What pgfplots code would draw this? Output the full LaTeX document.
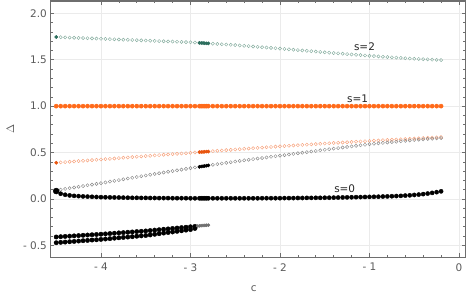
\documentclass[border=0pt]{standalone}
\usepackage{pgfplots}
\pgfplotsset{compat=1.18}
\usepackage{fontspec}
\setmainfont{DejaVu Sans}
\definecolor{fr}{HTML}{6E6E6E}
\definecolor{tk}{HTML}{5A5A5A}
\definecolor{grd}{HTML}{EBEBEB}
\definecolor{grn}{HTML}{86AD9F}
\definecolor{dgrn}{HTML}{2D6E5E}
\definecolor{org}{HTML}{FF6A1A}
\definecolor{dorg}{HTML}{E8550F}
\definecolor{lorg}{HTML}{F7A27C}
\definecolor{gry}{HTML}{8A8A8A}
\definecolor{dgry}{HTML}{707070}
\begin{document}
\begin{tikzpicture}
\begin{axis}[
  scale only axis, width=415.4bp, height=256.3bp,
  xmin=-4.566, xmax=0.075, ymin=-0.629, ymax=2.133,
  xtick={-4,-3,-2,-1,0}, xticklabels={- 4,- 3,- 2,- 1,0},
  ytick={-0.5,0,0.5,1,1.5,2}, yticklabels={- 0.5,0.0,0.5,1.0,1.5,2.0},
  minor x tick num=4, minor y tick num=4,
  tick align=inside,
  major tick length=4bp, minor tick length=2.5bp,
  every tick/.style={fr, line width=0.6bp},
  axis line style={fr, line width=1.3bp},
  grid=major, major grid style={grd, line width=0.5bp},
  tick label style={font=\fontsize{10.5}{12}\selectfont, text=tk},
  xticklabel style={yshift=-2.5bp},
  xlabel={c}, ylabel={$\Delta$},
  label style={font=\fontsize{10.5}{12}\selectfont, text=tk},
  xlabel style={at={(axis description cs:0.49,0)}, anchor=center, yshift=-31bp},
  ylabel style={at={(axis description cs:0,0.50)}, anchor=center, yshift=40bp},
  clip=false,
]
% s=2
\addplot[only marks, mark=o, mark size=1.6bp, grn, mark options={line width=0.45bp}] table {
-4.50 1.745
-4.45 1.743
-4.40 1.741
-4.35 1.739
-4.30 1.737
-4.25 1.735
-4.20 1.734
-4.15 1.732
-4.10 1.730
-4.05 1.728
-4.00 1.726
-3.95 1.724
-3.90 1.722
-3.85 1.720
-3.80 1.718
-3.75 1.716
-3.70 1.715
-3.65 1.713
-3.60 1.711
-3.55 1.709
-3.50 1.707
-3.45 1.705
-3.40 1.703
-3.35 1.701
-3.30 1.699
-3.25 1.697
-3.20 1.696
-3.15 1.694
-3.10 1.692
-3.05 1.690
-3.00 1.688
-2.95 1.685
-2.90 1.682
-2.85 1.679
-2.80 1.676
-2.75 1.673
-2.70 1.670
-2.65 1.667
-2.60 1.664
-2.55 1.661
-2.50 1.658
-2.45 1.654
-2.40 1.650
-2.35 1.647
-2.30 1.643
-2.25 1.639
-2.20 1.635
-2.15 1.631
-2.10 1.628
-2.05 1.624
-2.00 1.620
-1.95 1.616
-1.90 1.612
-1.85 1.608
-1.80 1.604
-1.75 1.600
-1.70 1.596
-1.65 1.592
-1.60 1.588
-1.55 1.584
-1.50 1.580
-1.45 1.576
-1.40 1.572
-1.35 1.569
-1.30 1.565
-1.25 1.561
-1.20 1.557
-1.15 1.553
-1.10 1.550
-1.05 1.546
-1.00 1.542
-0.95 1.539
-0.90 1.536
-0.85 1.532
-0.80 1.529
-0.75 1.526
-0.70 1.523
-0.65 1.520
-0.60 1.516
-0.55 1.513
-0.50 1.510
-0.45 1.508
-0.40 1.506
-0.35 1.504
-0.30 1.501
-0.25 1.499
-0.20 1.497
};
\addplot[only marks, mark=*, mark size=1.6bp, dgrn] table {
-2.90 1.682
-2.88 1.681
-2.86 1.680
-2.84 1.678
-2.82 1.677
-2.80 1.676
};
\addplot[only marks, mark=*, mark size=1.6bp, dgrn] table {
-4.50 1.745
};
% s=1
\addplot[only marks, mark=*, mark size=2.1bp, org] table {
-4.50 1
-4.45 1
-4.40 1
-4.35 1
-4.30 1
-4.25 1
-4.20 1
-4.15 1
-4.10 1
-4.05 1
-4.00 1
-3.95 1
-3.90 1
-3.85 1
-3.80 1
-3.75 1
-3.70 1
-3.65 1
-3.60 1
-3.55 1
-3.50 1
-3.45 1
-3.40 1
-3.35 1
-3.30 1
-3.25 1
-3.20 1
-3.15 1
-3.10 1
-3.05 1
-3.00 1
-2.95 1
-2.90 1
-2.88 1
-2.86 1
-2.84 1
-2.82 1
-2.80 1
-2.75 1
-2.70 1
-2.65 1
-2.60 1
-2.55 1
-2.50 1
-2.45 1
-2.40 1
-2.35 1
-2.30 1
-2.25 1
-2.20 1
-2.15 1
-2.10 1
-2.05 1
-2.00 1
-1.95 1
-1.90 1
-1.85 1
-1.80 1
-1.75 1
-1.70 1
-1.65 1
-1.60 1
-1.55 1
-1.50 1
-1.45 1
-1.40 1
-1.35 1
-1.30 1
-1.25 1
-1.20 1
-1.15 1
-1.10 1
-1.05 1
-1.00 1
-0.95 1
-0.90 1
-0.85 1
-0.80 1
-0.75 1
-0.70 1
-0.65 1
-0.60 1
-0.55 1
-0.50 1
-0.45 1
-0.40 1
-0.35 1
-0.30 1
-0.25 1
-0.20 1
};
% light orange
\addplot[only marks, mark=o, mark size=1.6bp, lorg, mark options={line width=0.45bp}] table {
-4.50 0.390
-4.45 0.394
-4.40 0.397
-4.35 0.401
-4.30 0.404
-4.25 0.408
-4.20 0.411
-4.15 0.415
-4.10 0.418
-4.05 0.422
-4.00 0.425
-3.95 0.429
-3.90 0.432
-3.85 0.436
-3.80 0.440
-3.75 0.444
-3.70 0.447
-3.65 0.451
-3.60 0.455
-3.55 0.458
-3.50 0.462
-3.45 0.465
-3.40 0.469
-3.35 0.472
-3.30 0.476
-3.25 0.479
-3.20 0.483
-3.15 0.486
-3.10 0.490
-3.05 0.493
-3.00 0.497
-2.95 0.501
-2.90 0.504
-2.85 0.508
-2.80 0.511
-2.75 0.515
-2.70 0.519
-2.65 0.522
-2.60 0.526
-2.55 0.529
-2.50 0.533
-2.45 0.536
-2.40 0.540
-2.35 0.543
-2.30 0.547
-2.25 0.550
-2.20 0.553
-2.15 0.557
-2.10 0.560
-2.05 0.564
-2.00 0.567
-1.95 0.570
-1.90 0.573
-1.85 0.576
-1.80 0.579
-1.75 0.582
-1.70 0.585
-1.65 0.588
-1.60 0.591
-1.55 0.594
-1.50 0.597
-1.45 0.600
-1.40 0.603
-1.35 0.605
-1.30 0.608
-1.25 0.611
-1.20 0.614
-1.15 0.617
-1.10 0.619
-1.05 0.622
-1.00 0.625
-0.95 0.628
-0.90 0.630
-0.85 0.633
-0.80 0.635
-0.75 0.638
-0.70 0.640
-0.65 0.643
-0.60 0.645
-0.55 0.648
-0.50 0.650
-0.45 0.653
-0.40 0.656
-0.35 0.659
-0.30 0.661
-0.25 0.664
-0.20 0.667
};
\addplot[only marks, mark=*, mark size=1.6bp, dorg] table {
-4.50 0.390
-2.90 0.504
-2.88 0.506
-2.86 0.507
-2.84 0.508
-2.82 0.510
-2.80 0.511
};
% gray
\addplot[only marks, mark=o, mark size=1.6bp, gry, mark options={line width=0.45bp}] table {
-4.45 0.100
-4.40 0.108
-4.35 0.116
-4.30 0.123
-4.25 0.131
-4.20 0.139
-4.15 0.147
-4.10 0.154
-4.05 0.162
-4.00 0.170
-3.95 0.178
-3.90 0.187
-3.85 0.195
-3.80 0.203
-3.75 0.212
-3.70 0.220
-3.65 0.228
-3.60 0.236
-3.55 0.245
-3.50 0.253
-3.45 0.261
-3.40 0.269
-3.35 0.277
-3.30 0.285
-3.25 0.293
-3.20 0.300
-3.15 0.308
-3.10 0.316
-3.05 0.324
-3.00 0.332
-2.95 0.339
-2.90 0.346
-2.85 0.353
-2.80 0.361
-2.75 0.368
-2.70 0.375
-2.65 0.382
-2.60 0.389
-2.55 0.396
-2.50 0.403
-2.45 0.410
-2.40 0.416
-2.35 0.422
-2.30 0.429
-2.25 0.435
-2.20 0.441
-2.15 0.447
-2.10 0.454
-2.05 0.460
-2.00 0.466
-1.95 0.472
-1.90 0.479
-1.85 0.485
-1.80 0.492
-1.75 0.498
-1.70 0.504
-1.65 0.511
-1.60 0.517
-1.55 0.524
-1.50 0.530
-1.45 0.536
-1.40 0.542
-1.35 0.548
-1.30 0.554
-1.25 0.560
-1.20 0.566
-1.15 0.572
-1.10 0.578
-1.05 0.584
-1.00 0.590
-0.95 0.595
-0.90 0.599
-0.85 0.604
-0.80 0.608
-0.75 0.613
-0.70 0.617
-0.65 0.622
-0.60 0.626
-0.55 0.631
-0.50 0.635
-0.45 0.639
-0.40 0.642
-0.35 0.646
-0.30 0.649
-0.25 0.653
-0.20 0.656
};
\addplot[only marks, mark=*, mark size=1.6bp, black] table {
-2.90 0.346
-2.88 0.349
-2.86 0.352
-2.84 0.355
-2.82 0.358
-2.80 0.361
};
% s=0
\addplot[only marks, mark=*, mark size=2.1bp, black] table {
-4.45 0.056
-4.40 0.045
-4.35 0.038
-4.30 0.033
-4.25 0.030
-4.20 0.027
-4.15 0.025
-4.10 0.023
-4.05 0.021
-4.00 0.019
-3.95 0.018
-3.90 0.017
-3.85 0.016
-3.80 0.015
-3.75 0.014
-3.70 0.013
-3.65 0.012
-3.60 0.012
-3.55 0.011
-3.50 0.011
-3.45 0.010
-3.40 0.010
-3.35 0.009
-3.30 0.009
-3.25 0.009
-3.20 0.008
-3.15 0.008
-3.10 0.008
-3.05 0.008
-3.00 0.007
-2.95 0.007
-2.90 0.007
-2.88 0.007
-2.86 0.007
-2.84 0.007
-2.82 0.007
-2.80 0.007
-2.75 0.007
-2.70 0.007
-2.65 0.007
-2.60 0.007
-2.55 0.007
-2.50 0.007
-2.45 0.007
-2.40 0.007
-2.35 0.007
-2.30 0.007
-2.25 0.007
-2.20 0.008
-2.15 0.008
-2.10 0.008
-2.05 0.008
-2.00 0.008
-1.95 0.009
-1.90 0.009
-1.85 0.009
-1.80 0.010
-1.75 0.010
-1.70 0.011
-1.65 0.011
-1.60 0.012
-1.55 0.012
-1.50 0.013
-1.45 0.013
-1.40 0.014
-1.35 0.015
-1.30 0.016
-1.25 0.017
-1.20 0.018
-1.15 0.019
-1.10 0.020
-1.05 0.021
-1.00 0.022
-0.95 0.023
-0.90 0.024
-0.85 0.026
-0.80 0.027
-0.75 0.029
-0.70 0.031
-0.65 0.033
-0.60 0.036
-0.55 0.039
-0.50 0.043
-0.45 0.047
-0.40 0.052
-0.35 0.058
-0.30 0.065
-0.25 0.073
-0.20 0.082
};
\addplot[only marks, mark=*, mark size=3.0bp, black] table {
-4.50 0.085
};
% lower pair
\addplot[only marks, mark=*, mark size=2.2bp, black] table {
-4.50 -0.472
-4.45 -0.468
-4.40 -0.465
-4.35 -0.461
-4.30 -0.458
-4.25 -0.454
-4.20 -0.450
-4.15 -0.447
-4.10 -0.443
-4.05 -0.440
-4.00 -0.436
-3.95 -0.432
-3.90 -0.428
-3.85 -0.423
-3.80 -0.419
-3.75 -0.415
-3.70 -0.411
-3.65 -0.407
-3.60 -0.402
-3.55 -0.398
-3.50 -0.394
-3.45 -0.388
-3.40 -0.381
-3.35 -0.375
-3.30 -0.368
-3.25 -0.362
-3.20 -0.356
-3.15 -0.349
-3.10 -0.343
-3.05 -0.336
-3.00 -0.330
-2.95 -0.318
};
\addplot[only marks, mark=*, mark size=2.2bp, black] table {
-4.50 -0.410
-4.45 -0.407
-4.40 -0.404
-4.35 -0.401
-4.30 -0.398
-4.25 -0.395
-4.20 -0.392
-4.15 -0.389
-4.10 -0.386
-4.05 -0.383
-4.00 -0.380
-3.95 -0.377
-3.90 -0.373
-3.85 -0.370
-3.80 -0.366
-3.75 -0.363
-3.70 -0.359
-3.65 -0.356
-3.60 -0.352
-3.55 -0.349
-3.50 -0.345
-3.45 -0.341
-3.40 -0.336
-3.35 -0.332
-3.30 -0.327
-3.25 -0.323
-3.20 -0.318
-3.15 -0.314
-3.10 -0.309
-3.05 -0.305
-3.00 -0.300
-2.95 -0.296
};
\addplot[only marks, mark=*, mark size=1.6bp, dgry] table {
-2.92 -0.292
-2.90 -0.290
-2.88 -0.288
-2.86 -0.287
-2.84 -0.285
-2.82 -0.284
-2.80 -0.283
};
\node[font=\fontsize{10.5}{12}\selectfont, text=black!85] at (axis cs:-1.056,1.64) {s=2};
\node[font=\fontsize{10.5}{12}\selectfont, text=black!85] at (axis cs:-1.134,1.084) {s=1};
\node[font=\fontsize{10.5}{12}\selectfont, text=black!85] at (axis cs:-1.277,0.108) {s=0};
\end{axis}
\pgfresetboundingbox
\useasboundingbox (-50.3bp,-38.7bp) rectangle (416.7bp,257.3bp);
\end{tikzpicture}
\end{document}
